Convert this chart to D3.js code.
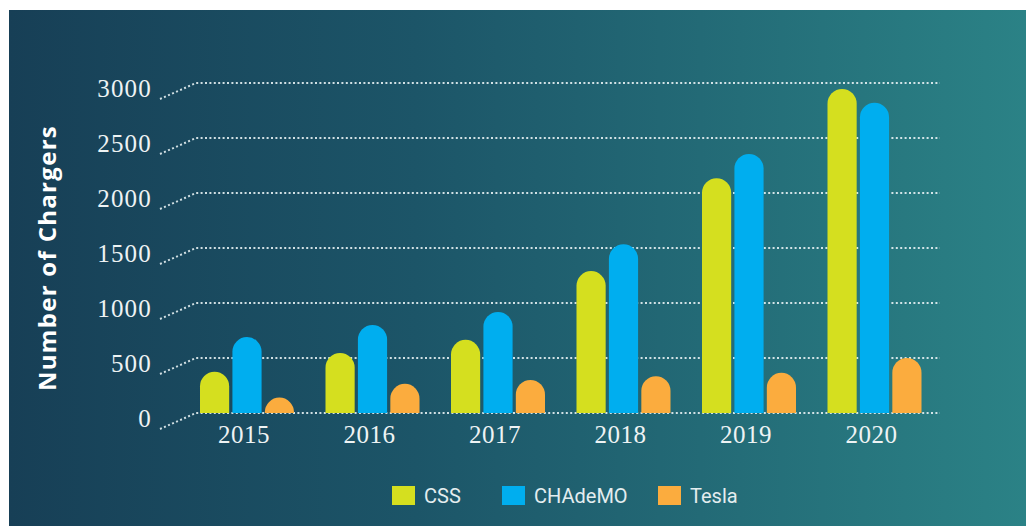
<!DOCTYPE html>
<html>
<head>
<meta charset="utf-8">
<script src="https://cdn.jsdelivr.net/npm/d3@7"></script>
<style>
  html, body { margin: 0; padding: 0; background: #ffffff; }
  svg { display: block; }
</style>
</head>
<body>
<svg id="chart" width="1026" height="526"></svg>
<script>
// Charger counts per year and connector standard
const years = ["2015", "2016", "2017", "2018", "2019", "2020"];
const seriesNames = ["CSS", "CHAdeMO", "Tesla"];
const cssValues = [375, 545, 665, 1290, 2135, 2945];
const chademoValues = [690, 800, 918, 1535, 2355, 2820];
const teslaValues = [140, 265, 300, 335, 365, 500];
const yTicks = [0, 500, 1000, 1500, 2000, 2500, 3000];
const seriesColors = ["#d5df1f", "#00aeef", "#fbac3e"];

const seriesValues = [cssValues, chademoValues, teslaValues];
const rows = years.map((yr, i) => ({
  year: yr,
  values: seriesNames.map((s, j) => ({ key: s, value: seriesValues[j][i] }))
}));

const svg = d3.select("#chart");
const W = 1026, H = 526;

// Background panel with horizontal gradient
const defs = svg.append("defs");
const grad = defs.append("linearGradient")
  .attr("id", "bg").attr("x1", "0%").attr("y1", "0%").attr("x2", "100%").attr("y2", "0%");
grad.append("stop").attr("offset", "0%").attr("stop-color", "#173f56");
grad.append("stop").attr("offset", "40%").attr("stop-color", "#1c5568");
grad.append("stop").attr("offset", "100%").attr("stop-color", "#2b8286");
svg.append("rect").attr("x", 9).attr("y", 10).attr("width", W - 9).attr("height", H - 10)
  .attr("fill", "url(#bg)");

// Scales
const y = d3.scaleLinear().domain([0, 3000]).range([413, 83]);
const x = d3.scaleBand().domain(years).range([184.25, 937.25]).padding(0);
const xInner = d3.scaleBand().domain(seriesNames).range([-47, 47]).paddingInner(0.1);
const color = d3.scaleOrdinal().domain(seriesNames).range(seriesColors);

// Dotted gridlines with a slanted lead-in towards each tick label
const gridX0 = 196, gridX1 = 940, leadX = 160, leadDrop = 16;
const grid = svg.append("g").attr("class", "grid");
grid.selectAll("path").data(yTicks).join("path")
  .attr("d", t => {
    const gy = y(t);
    return d3.line()([[leadX, gy + leadDrop], [gridX0, gy], [gridX1, gy]]);
  })
  .attr("fill", "none")
  .attr("stroke", "#e6f0f2")
  .attr("stroke-opacity", 0.9)
  .attr("stroke-width", 2)
  .attr("stroke-dasharray", "2,2.4");

// Y tick labels
svg.append("g").selectAll("text").data(yTicks).join("text")
  .attr("x", 152)
  .attr("y", t => y(t) + 8)
  .attr("text-anchor", "end")
  .attr("dominant-baseline", "middle")
  .attr("font-family", "'Liberation Serif', 'DejaVu Serif', serif")
  .attr("font-size", 25)
  .attr("letter-spacing", 1.2)
  .attr("fill", "#eef3f4")
  .text(t => t);

// Y axis title
svg.append("text")
  .attr("transform", "translate(56,258) rotate(-90)")
  .attr("text-anchor", "middle")
  .attr("font-family", "'Open Sans', sans-serif")
  .attr("font-weight", "bold")
  .attr("font-size", 24)
  .attr("letter-spacing", 1.3)
  .attr("fill", "#ffffff")
  .text("Number of Chargers");

// Bars with rounded tops
function pillTop(x0, w, yTop, yBase) {
  const r = Math.min(w / 2, yBase - yTop);
  return `M${x0},${yBase}L${x0},${yTop + r}` +
    `A${w / 2},${r} 0 0 1 ${x0 + w},${yTop + r}` +
    `L${x0 + w},${yBase}Z`;
}

const groups = svg.append("g").selectAll("g").data(rows).join("g")
  .attr("transform", d => `translate(${x(d.year) + x.bandwidth() / 2},0)`);

groups.selectAll("path").data(d => d.values).join("path")
  .attr("d", d => pillTop(xInner(d.key), xInner.bandwidth(), y(d.value), y(0)))
  .attr("fill", d => color(d.key));

// X tick labels
svg.append("g").selectAll("text").data(years).join("text")
  .attr("x", d => x(d) + x.bandwidth() / 2 - 3)
  .attr("y", 443)
  .attr("text-anchor", "middle")
  .attr("font-family", "'Liberation Serif', 'DejaVu Serif', serif")
  .attr("font-size", 25)
  .attr("letter-spacing", 0.5)
  .attr("fill", "#eef3f4")
  .text(d => d);

// Legend
const legendX = [392, 502, 658];
const legend = svg.append("g").selectAll("g").data(seriesNames).join("g")
  .attr("transform", (d, i) => `translate(${legendX[i]},486)`);
legend.append("rect").attr("width", 23).attr("height", 19).attr("fill", d => color(d));
legend.append("text")
  .attr("x", 32).attr("y", 17)
  .attr("font-family", "Roboto, sans-serif")
  .attr("font-size", 20)
  .attr("fill", "#e4edef")
  .text(d => d);
</script>
</body>
</html>
